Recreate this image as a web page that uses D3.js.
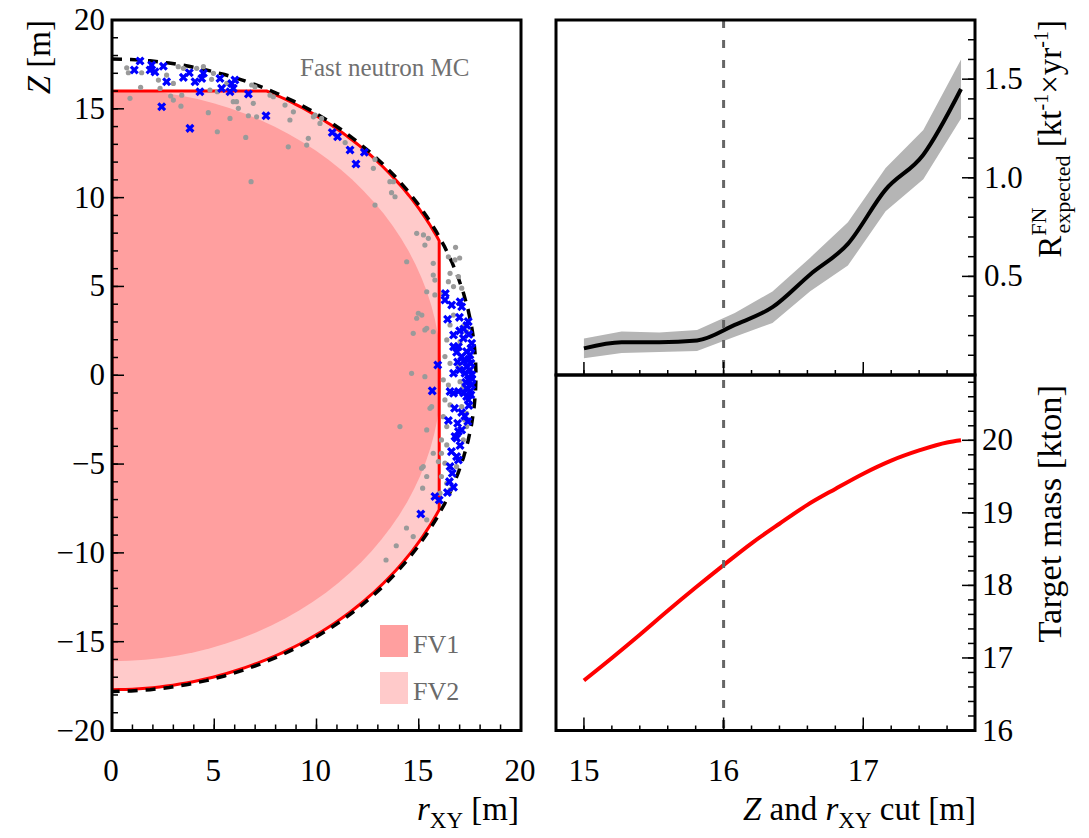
<!DOCTYPE html>
<html>
<head>
<meta charset="utf-8">
<script src="https://cdn.jsdelivr.net/npm/d3@7"></script>
<style>
  body { margin: 0; background: #fff; }
  text { font-family: "Liberation Serif", "DejaVu Serif", serif; }
</style>
</head>
<body>
<div id="chart"></div>
<script>
// ---- data ----
// detector geometry [m]
const sphereR = 17.7;
const fv2Cut = 16;
const fv1R = 16.1;

// fast neutron MC events (r_XY, Z) [m]
const grayR = [0.72,0.80,1.45,1.40,0.88,2.27,2.35,2.67,3.24,3.49,3.00,3.41,2.87,3.00,3.37,4.71,5.15,4.14,4.47,4.87,4.96,4.79,5.15,5.61,5.93,6.09,5.77,6.18,6.67,6.54,6.83,6.99,7.07,6.91,6.80,7.73,7.89,8.46,8.87,8.70,8.62,9.60,9.52,10.17,10.25,9.93,9.85,12.86,12.78,13.59,13.76,13.67,13.84,12.86,
  16.45,16.77,16.53,16.94,16.45,16.70,17.10,16.20,16.70,16.53,17.18,17.34,16.37,17.02,16.28,16.53,16.94,16.20,16.45,17.02,17.18,16.28,16.53,17.10,17.34,17.26,17.34,16.20,16.37,16.11,16.37,17.18,16.11,16.28,16.85,16.11,16.37,16.53,16.04,16.80,17.00,
  14.90,15.23,15.47,15.30,14.41,15.71,15.71,15.79,15.39,15.79,14.98,15.15,14.90,15.30,14.73,15.39,15.71,14.65,15.30,15.55,15.63,14.08,15.39,15.71,15.96,15.22,15.14,15.39,15.19,14.73,15.39,13.90,13.40,14.40,11.40];
const grayZ = [17.31,17.03,17.03,16.21,15.59,16.62,16.15,16.90,17.37,17.28,16.43,15.77,15.72,15.49,15.15,14.78,13.71,17.28,17.37,16.66,17.00,16.06,15.96,16.43,15.40,15.40,14.46,15.03,14.61,13.39,16.34,16.24,14.55,15.31,10.90,15.77,15.68,15.21,14.83,14.37,12.86,13.34,12.96,14.18,14.46,14.65,14.55,12.15,11.65,10.90,10.90,10.28,10.05,9.58,
  6.67,6.49,5.74,5.55,5.27,4.99,4.90,4.61,3.39,2.83,2.74,2.45,1.99,1.89,1.05,0.67,0.48,-0.26,-0.55,-0.36,-0.64,-1.39,-1.67,-1.77,-2.14,-2.52,-2.89,-2.33,-2.89,-3.64,-3.92,-3.64,-4.39,-4.95,-5.14,-5.70,-6.08,-6.45,-6.64,7.20,6.60,
  7.99,7.90,7.71,7.33,6.39,6.30,5.64,5.36,4.70,4.52,3.49,3.39,3.21,2.55,2.36,2.64,2.45,0.11,-0.08,-1.86,-1.77,-2.89,-3.08,-4.39,-4.86,-5.14,-5.23,-5.70,-6.36,-9.08,-8.14,-9.60,-10.40,-8.60,13.10];
const blueR = [1.37,1.09,1.94,1.86,2.10,2.51,2.67,2.43,3.78,3.49,4.06,4.47,4.39,4.30,3.81,5.28,5.36,5.85,5.93,5.77,6.01,6.67,7.53,10.77,11.03,11.64,12.34,11.93,
  16.28,16.61,17.02,17.10,17.42,16.41,16.99,16.70,17.18,16.70,16.94,17.59,17.34,17.50,17.10,17.55,17.34,17.50,17.59,15.93,16.70,17.26,17.42,17.59,17.34,17.50,16.70,16.94,16.53,15.66,17.42,17.34,16.75,16.45,17.10,16.94,16.77,16.85,17.02,16.85,16.94,16.53,16.64,16.50,15.79,16.00,15.10,
  17.20,17.45,17.55,17.20,17.45,17.00,17.60,17.30,17.45,17.25,17.40,17.10,16.90,17.20,16.90,17.55,16.60,16.70,16.40,17.35,17.00,16.85,16.30];
const blueZ = [17.69,17.18,17.46,17.18,17.08,17.40,16.52,15.12,17.03,16.77,16.52,17.00,16.71,15.96,13.90,16.71,16.15,16.43,16.15,15.96,16.62,15.83,14.61,13.67,13.43,12.68,12.55,11.89,
  4.24,3.96,4.14,3.86,3.02,3.15,3.26,2.27,2.08,1.61,1.61,1.80,1.33,1.14,1.05,0.67,0.48,0.30,0.02,0.58,0.11,0.11,-0.26,-0.55,-0.73,-0.92,-1.01,-0.92,-0.92,-0.88,-1.39,-1.20,-1.86,-2.55,-3.08,-3.17,-3.45,-3.55,-3.96,-4.58,-4.77,-5.14,-5.52,-5.99,-6.83,-7.02,-7.81,
  2.60,2.30,1.50,0.80,0.90,0.30,-0.20,-0.40,-1.70,-2.30,-2.60,-2.10,-2.70,-1.00,0.75,-1.10,-4.30,-6.30,-6.60,2.80,2.50,1.30,4.60];

// expected fast neutron rate vs cut
const rateCut = [15.0, 15.27, 15.54, 15.81, 16.08, 16.35, 16.62, 16.89, 17.16, 17.43, 17.7];
const rateFN  = [0.135, 0.166, 0.166, 0.175, 0.254, 0.344, 0.510, 0.665, 0.940, 1.117, 1.450];
const rateErr = [0.050, 0.055, 0.050, 0.053, 0.060, 0.080, 0.085, 0.110, 0.110, 0.125, 0.150];

// target mass vs cut
const massCut = [15.0, 15.2, 15.4, 15.6, 15.8, 16.0, 16.2, 16.4, 16.6, 16.8, 17.0, 17.2, 17.4, 17.6, 17.7];
const mass    = [16.69, 17.00, 17.32, 17.65, 17.97, 18.28, 18.58, 18.85, 19.11, 19.33, 19.54, 19.72, 19.86, 19.97, 20.00];

const chosenCut = 16;

// ---- layout ----
const W = 1089, H = 838;
const svg = d3.select("#chart").append("svg")
  .attr("width", W).attr("height", H)
  .style("background", "#fff");

const xL = d3.scaleLinear().domain([0, 20]).range([112, 521]);
const yL = d3.scaleLinear().domain([-20, 20]).range([730.5, 20]);
const xR = d3.scaleLinear().domain([14.8, 17.8]).range([556, 975]);
const yTop = d3.scaleLinear().domain([0, 1.8]).range([375, 20]);
const yBot = d3.scaleLinear().domain([16, 20.9]).range([730.5, 375]);

const defs = svg.append("defs");
defs.append("clipPath").attr("id", "clipL").append("rect")
  .attr("x", xL(0)).attr("y", yL(20)).attr("width", xL(20) - xL(0)).attr("height", yL(-20) - yL(20));
defs.append("clipPath").attr("id", "clipT").append("rect")
  .attr("x", xR(14.8)).attr("y", yTop(1.8)).attr("width", xR(17.8) - xR(14.8)).attr("height", yTop(0) - yTop(1.8));
defs.append("clipPath").attr("id", "clipB").append("rect")
  .attr("x", xR(14.8)).attr("y", yBot(20.9)).attr("width", xR(17.8) - xR(14.8)).attr("height", yBot(16) - yBot(20.9));

// ---- left panel: detector view ----
const leftG = svg.append("g").attr("clip-path", "url(#clipL)");
const line = d3.line().x(d => xL(d[0])).y(d => yL(d[1]));

// arc of sphere from angle a0 to a1 (angle from +Z axis)
function arcPts(R, a0, a1) {
  let n = 60;
  return d3.range(n + 1).map(i => {
    let a = a0 + (a1 - a0) * i / n;
    return [R * Math.sin(a), R * Math.cos(a)];
  });
}
const aTop = Math.asin(Math.sqrt(sphereR * sphereR - fv2Cut * fv2Cut) / sphereR);
const aSide = Math.asin(fv2Cut / sphereR);

// FV2 outline
let fv2 = [[0, fv2Cut]]
  .concat(arcPts(sphereR, aTop, aSide))
  .concat(arcPts(sphereR, Math.PI - aSide, Math.PI));
fv2.push([0, fv2Cut]);
// FV1 outline
const a1 = Math.asin(Math.sqrt(fv1R * fv1R - fv2Cut * fv2Cut) / fv1R);
let fv1 = [[0, fv2Cut]].concat(arcPts(fv1R, a1, Math.PI));

leftG.append("path").attr("d", line(fv2)).attr("fill", "#ffcaca");
leftG.append("path").attr("d", line(fv1) + "Z").attr("fill", "#ff9f9f");
leftG.append("path").attr("d", line(fv2)).attr("fill", "none")
  .attr("stroke", "#ff0000").attr("stroke-width", 3);
leftG.append("path").attr("d", line(arcPts(sphereR + 0.1, 0, Math.PI)))
  .attr("fill", "none").attr("stroke", "#000").attr("stroke-width", 3.5)
  .attr("stroke-dasharray", "10,8");

leftG.append("g").selectAll("circle")
  .data(grayR.map((r, i) => [r, grayZ[i]]))
  .join("circle")
  .attr("cx", d => xL(d[0])).attr("cy", d => yL(d[1]))
  .attr("r", 2.6).attr("fill", "#9a9a9a");

const s = 3.4;
leftG.append("g").selectAll("path")
  .data(blueR.map((r, i) => [r, blueZ[i]]))
  .join("path")
  .attr("transform", d => `translate(${xL(d[0])},${yL(d[1])})`)
  .attr("d", `M${-s},${-s}L${s},${s}M${-s},${s}L${s},${-s}`)
  .attr("stroke", "#0000ff").attr("stroke-width", 3.2);

svg.append("text").attr("x", 300).attr("y", 76)
  .attr("font-size", 25).attr("fill", "#707070").text("Fast neutron MC");

// legend
const legend = [{ name: "FV1", color: "#ff9f9f" }, { name: "FV2", color: "#ffcaca" }];
const lg = svg.append("g").selectAll("g").data(legend).join("g")
  .attr("transform", (d, i) => `translate(380,${625 + i * 47})`);
lg.append("rect").attr("width", 28).attr("height", 32).attr("fill", d => d.color);
lg.append("text").attr("x", 33).attr("y", 28).attr("font-size", 26)
  .attr("fill", "#6a6a6a").text(d => d.name);

// ---- right panels ----
const topG = svg.append("g").attr("clip-path", "url(#clipT)");
const rateRows = rateCut.map((c, i) => ({ c, v: rateFN[i], e: rateErr[i] }));
topG.append("path").datum(rateRows)
  .attr("d", d3.area().x(d => xR(d.c)).y0(d => yTop(d.v - d.e)).y1(d => yTop(d.v + d.e)))
  .attr("fill", "#b5b5b5");
topG.append("path").datum(rateRows)
  .attr("d", d3.line().curve(d3.curveMonotoneX).x(d => xR(d.c)).y(d => yTop(d.v)))
  .attr("fill", "none").attr("stroke", "#000").attr("stroke-width", 4);

const botG = svg.append("g").attr("clip-path", "url(#clipB)");
botG.append("path").datum(massCut.map((c, i) => [c, mass[i]]))
  .attr("d", d3.line().curve(d3.curveMonotoneX).x(d => xR(d[0])).y(d => yBot(d[1])))
  .attr("fill", "none").attr("stroke", "#ff0000").attr("stroke-width", 4);

svg.append("line")
  .attr("x1", xR(chosenCut)).attr("x2", xR(chosenCut))
  .attr("y1", yTop(1.8)).attr("y2", yBot(16))
  .attr("stroke", "#666").attr("stroke-width", 3).attr("stroke-dasharray", "8,12");

// ---- axes & ticks ----
const ax = svg.append("g").attr("stroke", "#000").attr("stroke-width", 1.5);
function ticksV(x, scale, vals, len) {
  ax.append("g").selectAll("line").data(vals).join("line")
    .attr("x1", x).attr("x2", x + len)
    .attr("y1", d => scale(d)).attr("y2", d => scale(d));
}
function ticksH(y, scale, vals, len) {
  ax.append("g").selectAll("line").data(vals).join("line")
    .attr("y1", y).attr("y2", y - len)
    .attr("x1", d => scale(d)).attr("x2", d => scale(d));
}
// left panel
ticksV(xL(0), yL, d3.range(-20, 21, 1), 6);
ticksV(xL(0), yL, d3.range(-20, 21, 5), 12);
ticksH(yL(-20), xL, d3.range(0, 21, 1), 6);
ticksH(yL(-20), xL, d3.range(0, 21, 5), 12);
// right panels
const xMinor = d3.range(0, 16).map(i => 14.8 + i * 0.2);
[yTop(0), yBot(16)].forEach(y => {
  ticksH(y, xR, xMinor, 5);
  ticksH(y, xR, [15, 16, 17], 13);
});
ticksV(xR(17.8), yTop, d3.range(1, 18).map(i => i / 10), -7);
ticksV(xR(17.8), yTop, [0.5, 1.0, 1.5], -13);
ticksV(xR(17.8), yBot, d3.range(0, 25).map(i => 16 + i * 0.2), -7);
ticksV(xR(17.8), yBot, [16, 17, 18, 19, 20], -13);

// frames
const frame = svg.append("g").attr("fill", "none").attr("stroke", "#000").attr("stroke-width", 3);
frame.append("rect").attr("x", xL(0)).attr("y", yL(20))
  .attr("width", xL(20) - xL(0)).attr("height", yL(-20) - yL(20));
frame.append("rect").attr("x", xR(14.8)).attr("y", yTop(1.8))
  .attr("width", xR(17.8) - xR(14.8)).attr("height", yTop(0) - yTop(1.8));
frame.append("rect").attr("x", xR(14.8)).attr("y", yBot(20.9))
  .attr("width", xR(17.8) - xR(14.8)).attr("height", yBot(16) - yBot(20.9));

// tick labels
const fs = 31;
const labels = svg.append("g").attr("font-size", fs).attr("fill", "#000");
const minus = v => (v < 0 ? "\u2212" + Math.abs(v) : "" + v);
labels.append("g").selectAll("text").data(d3.range(-20, 21, 5)).join("text")
  .attr("x", 105).attr("y", d => yL(d) + 10).attr("text-anchor", "end").text(minus);
labels.append("g").selectAll("text").data(d3.range(0, 21, 5)).join("text")
  .attr("x", d => xL(d) - 1).attr("y", 781).attr("text-anchor", "middle").text(d => d);
labels.append("g").selectAll("text").data([15, 16, 17]).join("text")
  .attr("x", d => xR(d)).attr("y", 781).attr("text-anchor", "middle").text(d => d);
labels.append("g").selectAll("text").data([0.5, 1.0, 1.5]).join("text")
  .attr("x", 984).attr("y", d => yTop(d) + 10).text(d => d.toFixed(1));
labels.append("g").selectAll("text").data([16, 17, 18, 19, 20]).join("text")
  .attr("x", 982).attr("y", d => yBot(d) + 10).text(d => d);

// axis titles
const tfs = 33;
svg.append("text").attr("transform", "translate(50,20) rotate(-90)")
  .attr("text-anchor", "end").attr("font-size", tfs)
  .html('<tspan font-style="italic">Z</tspan> [m]');
svg.append("text").attr("x", 519).attr("y", 820)
  .attr("text-anchor", "end").attr("font-size", tfs)
  .html('<tspan font-style="italic">r</tspan><tspan font-size="23" dy="8">XY</tspan><tspan dy="-8"> [m]</tspan>');
svg.append("text").attr("x", 976).attr("y", 820)
  .attr("text-anchor", "end").attr("font-size", tfs)
  .html('<tspan font-style="italic">Z</tspan> and <tspan font-style="italic">r</tspan><tspan font-size="23" dy="8">XY</tspan><tspan dy="-8"> cut [m]</tspan>');
svg.append("text").attr("transform", "translate(1061,20) rotate(-90)")
  .attr("text-anchor", "end").attr("font-size", tfs)
  .html('R<tspan font-size="22" dy="-15">FN</tspan><tspan font-size="22" dx="-26" dy="24">expected</tspan><tspan dy="-9"> [kt</tspan><tspan font-size="20" dy="-13">-1</tspan><tspan dy="13">\u00d7yr</tspan><tspan font-size="20" dy="-13">-1</tspan><tspan dy="13">]</tspan>');
svg.append("text").attr("transform", "translate(1061,385) rotate(-90)")
  .attr("text-anchor", "end").attr("font-size", 34.5)
  .text("Target mass [kton]");
</script>
</body>
</html>
